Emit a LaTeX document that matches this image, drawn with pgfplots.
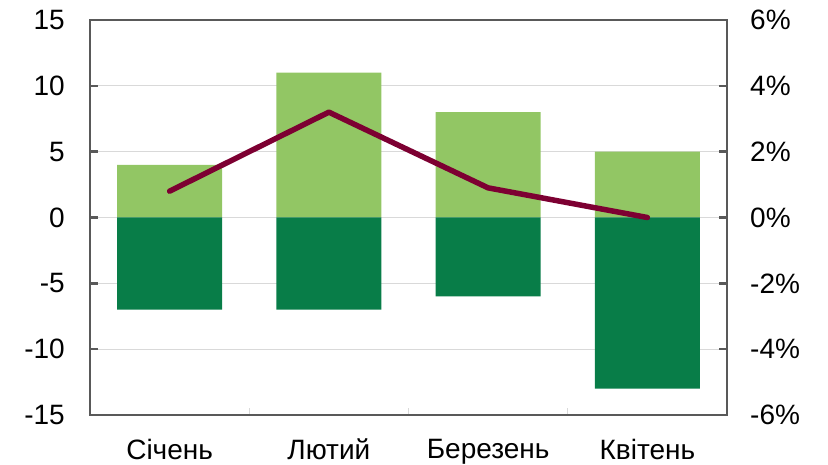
\documentclass[border=0pt]{standalone}
\usepackage{fontspec}
\setmainfont{Liberation Sans}
\usepackage{pgfplots}
\pgfplotsset{compat=1.18}
\definecolor{lgreen}{RGB}{146,198,100}
\definecolor{dgreen}{RGB}{8,125,72}
\definecolor{linecol}{RGB}{125,0,50}
\definecolor{framecol}{RGB}{89,89,89}
\definecolor{gridcol}{RGB}{217,217,217}
\begin{document}
\begin{tikzpicture}[x=1bp,y=1bp]
\path[use as bounding box] (-90,-50) rectangle (738,415);
\begin{axis}[
  at={(0,0)}, anchor=south west, scale only axis,
  width=637bp, height=395bp,
  xmin=-0.5, xmax=3.5, ymin=-15, ymax=15,
  axis line style={framecol, line width=2.5bp},
  xtick={0,1,2,3}, xticklabels={Січень,Лютий,Березень,Квітень},
  major x tick style={draw=none},
  minor xtick={0.5,1.5,2.5}, minor x tick style={gridcol, line width=1bp},
  minor tick length=7bp,
  xtick pos=bottom,
  ytick={-15,-10,...,15}, yticklabels={-15,-10,-5,0,5,10,15},
  ytick pos=left, tick align=inside,
  ymajorgrids, major grid style={gridcol, line width=1bp},
  major tick length=8bp, y tick style={framecol, line width=2.5bp},
  tick label style={font=\fontsize{28bp}{33bp}\selectfont, inner sep=0pt},
  yticklabel shift=25bp, xticklabel shift=24bp,
  bar width=105bp,
]
\addplot[ybar, bar shift=0pt, fill=lgreen, draw=none] coordinates {(0,4) (1,11) (2,8) (3,5)};
\addplot[ybar, bar shift=0pt, fill=dgreen, draw=none] coordinates {(0,-7) (1,-7) (2,-6) (3,-13)};
\end{axis}
\begin{axis}[
  at={(0,0)}, anchor=south west, scale only axis,
  width=637bp, height=395bp,
  xmin=-0.5, xmax=3.5, ymin=-6, ymax=6,
  axis x line=none, axis y line*=right,
  axis line style={framecol, line width=2.5bp},
  ytick={-6,-4,...,6}, yticklabels={-6\%,-4\%,-2\%,0\%,2\%,4\%,6\%},
  tick align=inside, major tick length=8bp,
  y tick style={framecol, line width=2.5bp},
  tick label style={font=\fontsize{28bp}{33bp}\selectfont, inner sep=0pt},
  yticklabel shift=23bp,
]
\addplot[linecol, line width=5.5bp, line join=round, line cap=round] coordinates {(0,0.8) (1,3.2) (2,0.9) (3,0)};
\end{axis}
\end{tikzpicture}
\end{document}
